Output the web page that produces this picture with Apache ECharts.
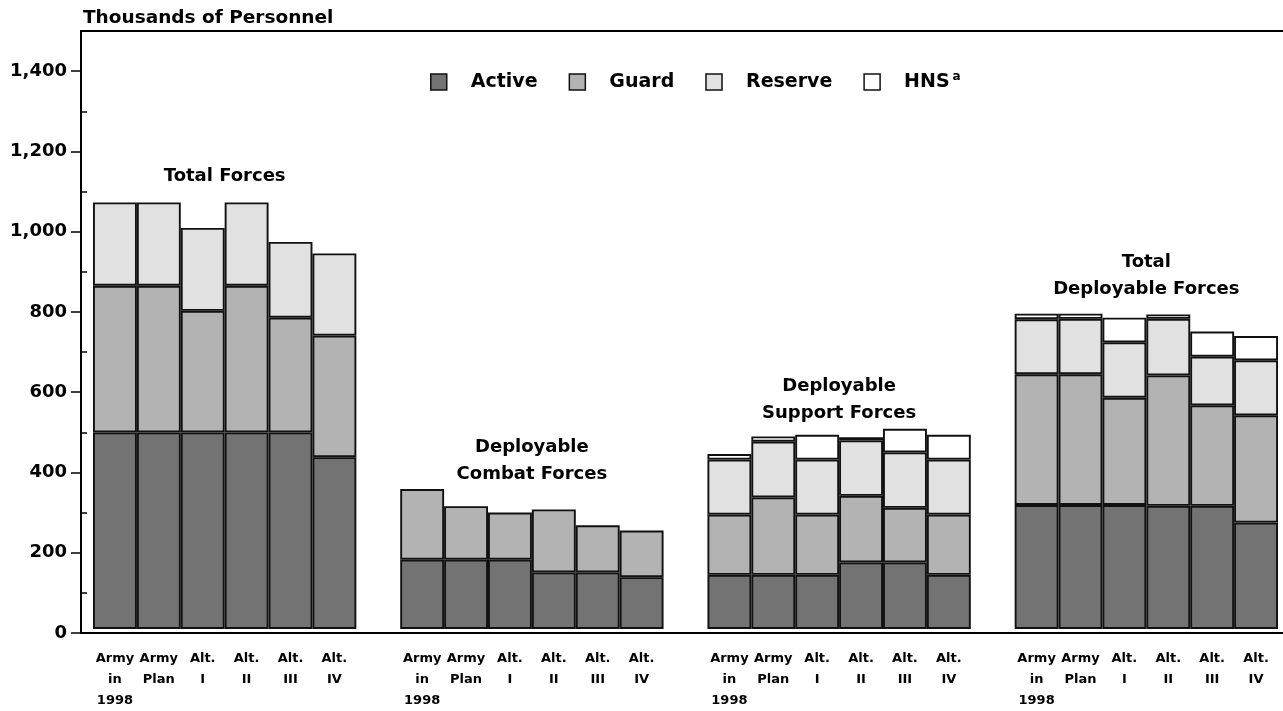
<!DOCTYPE html>
<html><head><meta charset="utf-8">
<script src="https://cdn.jsdelivr.net/npm/echarts@6/dist/echarts.min.js"></script>
<style>html,body{margin:0;padding:0;background:#fff}#c{width:1283px;height:711px}</style>
</head><body><div id="c"></div>
<script>
// ---- data ----
const groupTitles = ['Total Forces', 'Deployable\nCombat Forces', 'Deployable\nSupport Forces', 'Total\nDeployable Forces'];
const barLabels = ['Army\nin\n1998', 'Army\nPlan', 'Alt.\nI', 'Alt.\nII', 'Alt.\nIII', 'Alt.\nIV'];
const seriesNames = ['Active', 'Guard', 'Reserve', 'HNS'];
// thousands of personnel; 6 bars per group: Total | Combat | Support | Total Deployable
const activeVals  = [493,493,493,493,493,431,  174,174,174,142,142,130,  136,136,136,167,167,136,  311,311,311,309,309,267];
const guardVals   = [368,368,305,368,288,305,  177,134,118,158,118,117,  151,194,151,167,137,151,  328,328,269,327,252,269];
const reserveVals = [209,209,208,209,190,206,    0,  0,  0,  0,  0,  0,  138,140,138,139,139,138,  138,139,139,142,122,138];
const hnsVals     = [  0,  0,  0,  0,  0,  0,    0,  0,  0,  0,  0,  0,   14, 13, 62,  8, 59, 62,   14, 13, 62, 11, 63, 61];
const yTicks = [0,200,400,600,800,1000,1200,1400];
const yMinorTicks = [100,300,500,700,900,1100,1300];

// ---- layout / style ----
const FONT = 'DejaVu Sans';
const colors = ['#737373', '#b3b3b3', '#e1e1e1', '#ffffff'];
const titleGap = [13, 1, 2, 11];
const perGroup = 6, groupStride = 7, nGroups = 4;
const nSlots = nGroups * groupStride - 1; // 27 slots incl. spacers

const slots = [];
const slotOfBar = [];
for (let s = 0; s < nSlots; s++) {
  const i = s % groupStride;
  slots.push(i < perGroup ? 's' + s : 'gap' + s);
  if (i < perGroup) slotOfBar.push(s);
}

const allVals = [activeVals, guardVals, reserveVals, hnsVals];
const series = allVals.map((vals, k) => {
  const d = new Array(nSlots).fill(null);
  vals.forEach((v, j) => { d[slotOfBar[j]] = v === 0 ? null : v; });
  return {
    name: seriesNames[k],
    type: 'bar',
    stack: 'all',
    xAxisIndex: 0, yAxisIndex: 0,
    barWidth: '100%',
    barCategoryGap: 0,
    itemStyle: { color: colors[k], borderColor: '#111', borderWidth: 1.9 },
    emphasis: { disabled: true },
    data: d
  };
});

const titleData = groupTitles.map((t, g) => {
  let mx = 0;
  for (let i = 0; i < perGroup; i++) {
    const j = g * perGroup + i;
    mx = Math.max(mx, activeVals[j] + guardVals[j] + reserveVals[j] + hnsVals[j]);
  }
  return { value: [g * groupStride + (perGroup - 1) / 2, mx], label: { distance: titleGap[g] } };
});
series.push({
  type: 'scatter', symbolSize: 0, silent: true, z: 10,
  xAxisIndex: 1, yAxisIndex: 0,
  itemStyle: { opacity: 1 },
  data: titleData,
  label: {
    show: true, position: 'top',
    formatter: p => groupTitles[p.dataIndex],
    fontFamily: FONT, fontWeight: 'bold', fontSize: 18, lineHeight: 27, color: '#000', align: 'center'
  }
});

const lineAxis = (pos) => ({
  gridIndex: 1, type: 'value', min: 0, max: 1, position: pos,
  axisLine: { show: true, onZero: false, lineStyle: { color: '#000', width: 2 } },
  axisTick: { show: false }, axisLabel: { show: false }, splitLine: { show: false }
});

const chart = echarts.init(document.getElementById('c'), null, { renderer: 'canvas' });
chart.setOption({
  animation: false,
  backgroundColor: '#fff',
  title: {
    text: 'Thousands of Personnel', left: 83, top: 9, padding: 0,
    textStyle: { fontFamily: FONT, fontWeight: 'bold', fontSize: 18.5, color: '#000' }
  },
  legend: {
    left: 425, top: 66,
    icon: 'rect', itemWidth: 16, itemHeight: 16, itemGap: 31,
    data: seriesNames,
    itemStyle: { borderColor: '#111', borderWidth: 1.5 },
    textStyle: {
      fontFamily: FONT, fontWeight: 'bold', fontSize: 19, color: '#000', padding: [0, 0, 0, 19],
      rich: {
        n: { fontFamily: FONT, fontWeight: 'bold', fontSize: 19, color: '#000' },
        s: { fontFamily: FONT, fontWeight: 'bold', fontSize: 12, color: '#000', padding: [0, 0, 10, 3] }
      }
    },
    formatter: name => name === 'HNS' ? '{n|HNS}{s|a}' : name,
    selectedMode: false
  },
  grid: [
    { left: 93, right: 5, top: 31, bottom: 78 },
    { left: 81, right: 0, top: 31, bottom: 78 }
  ],
  xAxis: [{
    gridIndex: 0, type: 'category', data: slots, position: 'bottom',
    axisLine: { show: false }, axisTick: { show: false }, splitLine: { show: false },
    axisLabel: {
      interval: 0,
      formatter: (v, idx) => (idx % groupStride) < perGroup ? barLabels[idx % groupStride] : '',
      fontFamily: FONT, fontWeight: 'bold', fontSize: 13, lineHeight: 21, color: '#000', margin: 19
    }
  }, {
    gridIndex: 0, type: 'value', min: -0.5, max: nSlots - 0.5, position: 'top', show: false
  },
  lineAxis('bottom'), lineAxis('top')],
  yAxis: [{
    gridIndex: 0, type: 'value', min: 0, max: 1500, show: false
  }, {
    gridIndex: 1, type: 'value', min: 0, max: 1500, position: 'left',
    axisLine: { show: true, lineStyle: { color: '#000', width: 2 } },
    axisTick: { show: true, customValues: yTicks, length: 10, lineStyle: { color: '#000', width: 1.5 } },
    splitLine: { show: false },
    axisLabel: {
      customValues: yTicks,
      formatter: v => v.toLocaleString('en-US'),
      fontFamily: FONT, fontWeight: 'bold', fontSize: 18, color: '#000', margin: 14
    }
  }, {
    gridIndex: 1, type: 'value', min: 0, max: 1500, position: 'left',
    axisLine: { show: false },
    axisTick: { show: true, inside: true, customValues: yMinorTicks, length: 6, lineStyle: { color: '#000', width: 1.5 } },
    axisLabel: { show: false }, splitLine: { show: false }
  }],
  series: series
});
</script>
</body></html>
